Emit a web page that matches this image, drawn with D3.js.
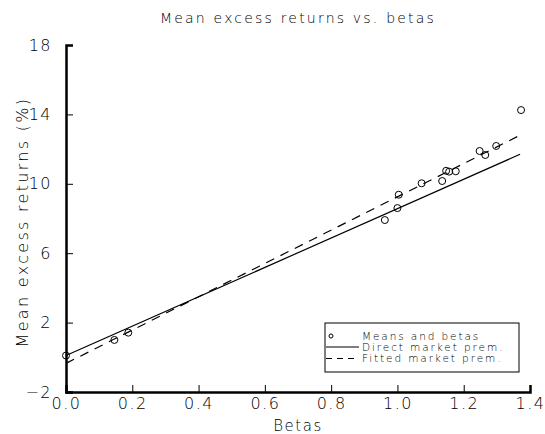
<!DOCTYPE html>
<html><head><meta charset="utf-8">
<script src="https://cdn.jsdelivr.net/npm/d3@7"></script>
<style>
body{margin:0;background:#fff;}
text{font-family:"DejaVu Sans","Open Sans",sans-serif;font-weight:200;fill:#000;}
</style></head>
<body><svg id="c" width="545" height="434"></svg>
<script>
const betas   = [0.0, 0.146, 0.188, 0.962, 1.0, 1.004, 1.073, 1.135, 1.147, 1.156, 1.176, 1.248, 1.265, 1.298, 1.373];
const means   = [0.1, 1.0, 1.42, 7.91, 8.6, 9.37, 10.03, 10.16, 10.75, 10.7, 10.72, 11.89, 11.66, 12.18, 14.25];
const directLine = [[0, 0.1], [1.37, 11.7]];
const fittedLine = [[0, -0.35], [1.37, 12.8]];
const xTicks = [0, 0.2, 0.4, 0.6, 0.8, 1.0, 1.2, 1.4];
const yTicks = [-2, 2, 6, 10, 14, 18];
const legendLabels = ["Means and betas", "Direct market prem.", "Fitted market prem."];

const svg = d3.select("#c");
const x = d3.scaleLinear().domain([0, 1.4]).range([66, 530]);
const y = d3.scaleLinear().domain([-2, 18]).range([392, 45]);

// axes
const xa = svg.append("g").attr("transform", "translate(0,392)");
xa.call(d3.axisBottom(x).tickValues(d3.range(0, 1.41, 0.1)).tickSize(-4).tickFormat(""));
xa.call(d3.axisBottom(x).tickValues(xTicks).tickSize(-7).tickFormat(d3.format(".1f")).tickPadding(14));
xa.selectAll(".domain").attr("stroke-width", 2.5);
xa.selectAll("text").attr("font-size", 16).attr("dy", "0.2em").attr("letter-spacing", "1.5px");

const ya = svg.append("g").attr("transform", "translate(66,0)");
ya.call(d3.axisLeft(y).tickValues(d3.range(-2, 18.1, 2)).tickSize(-4).tickFormat(""));
ya.call(d3.axisLeft(y).tickValues(yTicks).tickSize(-7).tickFormat(d => d < 0 ? "\u2212" + Math.abs(d) : d).tickPadding(14));
ya.selectAll(".domain").attr("stroke-width", 2.5);
ya.selectAll("text").attr("font-size", 16).attr("letter-spacing", "1.5px");

// lines
const line = d3.line().x(d => x(d[0])).y(d => y(d[1]));
svg.append("path").datum(directLine).attr("d", line).attr("stroke", "#000").attr("stroke-width", 1.2).attr("fill", "none");
svg.append("path").datum(fittedLine).attr("d", line).attr("stroke", "#000").attr("stroke-width", 1.2).attr("fill", "none").attr("stroke-dasharray", "9,7");

// points
svg.append("g").selectAll("circle").data(betas).join("circle")
  .attr("cx", d => x(d)).attr("cy", (d, i) => y(means[i])).attr("r", 3.5)
  .attr("fill", "none").attr("stroke", "#000").attr("stroke-width", 1);

// title and labels
svg.append("text").attr("x", 298).attr("y", 23).attr("text-anchor", "middle").attr("font-size", 14).attr("letter-spacing", "2.2px").text("Mean excess returns vs. betas");
svg.append("text").attr("x", 298).attr("y", 431).attr("text-anchor", "middle").attr("font-size", 15).attr("letter-spacing", "1.5px").text("Betas");
svg.append("text").attr("transform", "translate(28,222) rotate(-90)").attr("text-anchor", "middle").attr("font-size", 16).attr("letter-spacing", "2.3px").text("Mean excess returns (%)");

// legend
const lg = svg.append("g");
lg.append("rect").attr("x", 325).attr("y", 323).attr("width", 194).attr("height", 49).attr("fill", "#fff").attr("stroke", "#000").attr("stroke-width", 1);
const ly = [336, 347, 358.5];
lg.append("circle").attr("cx", 331).attr("cy", ly[0]).attr("r", 2).attr("fill", "none").attr("stroke", "#000");
lg.append("line").attr("x1", 326).attr("x2", 359).attr("y1", ly[1]).attr("y2", ly[1]).attr("stroke", "#000");
lg.append("line").attr("x1", 326).attr("x2", 359).attr("y1", ly[2]).attr("y2", ly[2]).attr("stroke", "#000").attr("stroke-dasharray", "6,5");
lg.selectAll("text.l").data(legendLabels).join("text").attr("class", "l")
  .attr("x", 362).attr("y", (d, i) => ly[i]).attr("dy", "0.35em").attr("font-size", 10.5).attr("letter-spacing", "1.9px").text(d => d);
</script></body></html>
